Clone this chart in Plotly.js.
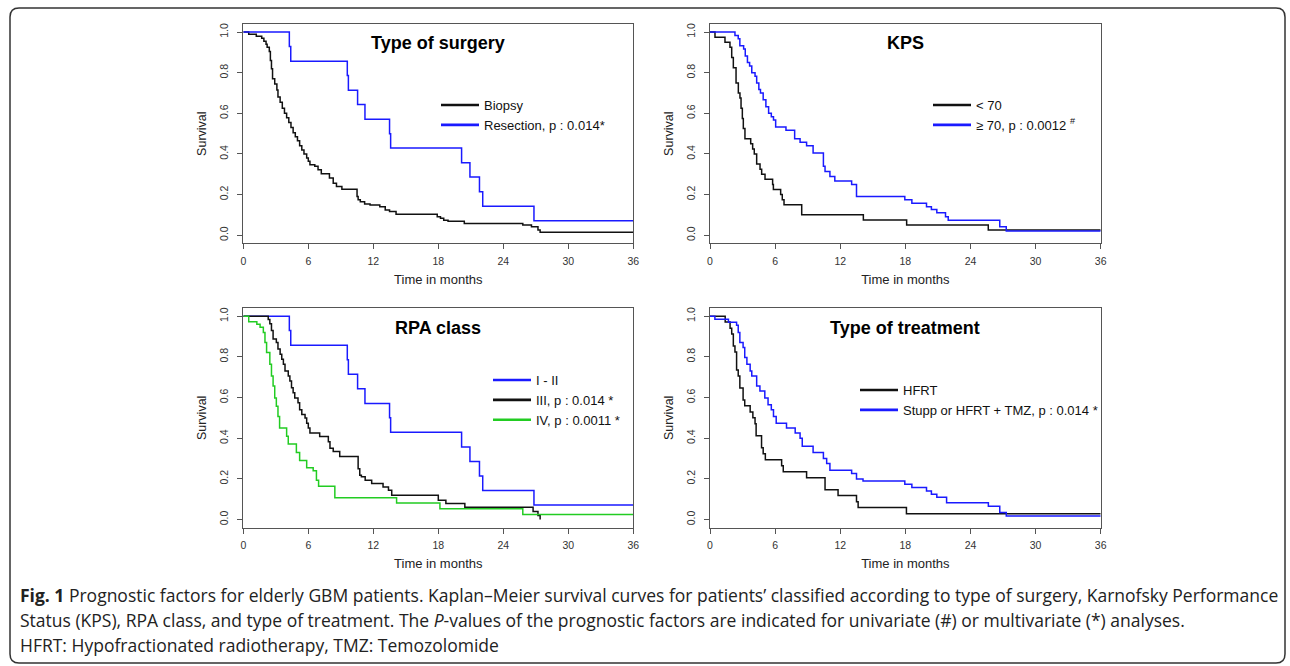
<!DOCTYPE html>
<html>
<head>
<meta charset="utf-8">
<script src="https://cdn.plot.ly/plotly-3.0.1.min.js"></script>
<style>html,body{margin:0;padding:0;background:#fff;}#chart{width:1290px;height:666px;}</style>
</head>
<body>
<div id="chart"></div>
<script>
// ---------- Data ----------
var monthTicks = [0, 6, 12, 18, 24, 30, 36];
var survTicks = [0, 0.2, 0.4, 0.6, 0.8, 1.0];
var survTickText = ['0.0', '0.2', '0.4', '0.6', '0.8', '1.0'];

var panelTitles = ['Type of surgery', 'KPS', 'RPA class', 'Type of treatment'];

// Type of surgery
var surgBiopsyT = [0,0.5,1.2,1.7,1.9,2.1,2.2,2.4,2.5,2.6,2.7,2.9,3.1,3.2,3.4,3.6,3.8,4.0,4.2,4.4,4.6,4.8,5.0,5.2,5.4,5.6,5.85,6.0,6.15,6.6,6.9,7.2,7.95,8.3,8.6,9.1,10.5,10.6,10.8,11.2,11.7,12.6,13.1,13.5,14.1,17.9,18.2,18.5,18.9,20.4,25.8,26.6,27.2,27.4,36];
var surgBiopsyS = [1,0.99,0.98,0.97,0.955,0.94,0.925,0.905,0.86,0.82,0.77,0.745,0.715,0.68,0.655,0.625,0.6,0.578,0.555,0.53,0.505,0.485,0.465,0.44,0.42,0.4,0.38,0.364,0.347,0.339,0.322,0.302,0.281,0.256,0.24,0.226,0.19,0.174,0.165,0.154,0.149,0.14,0.124,0.116,0.103,0.091,0.083,0.074,0.069,0.058,0.05,0.041,0.025,0.014,0.014];
var surgResT = [0,4.25,4.38,9.6,9.7,10.55,11.23,13.5,13.6,20.15,20.92,21.8,22.1,26.83,36];
var surgResS = [1,0.929,0.857,0.786,0.714,0.643,0.571,0.5,0.429,0.357,0.286,0.214,0.143,0.071,0.071];

// KPS
var kpsLowT = [0,0.46,1.38,1.84,2.0,2.15,2.4,2.61,2.76,2.86,2.98,3.07,3.22,3.75,3.93,4.08,4.3,4.61,4.76,5.07,5.77,5.84,6.51,6.66,6.82,8.45,14.13,18.12,25.64,36];
var kpsLowS = [1,0.975,0.95,0.925,0.875,0.825,0.75,0.7,0.675,0.625,0.575,0.525,0.475,0.45,0.425,0.4,0.35,0.325,0.3,0.275,0.25,0.225,0.2,0.175,0.15,0.1,0.075,0.05,0.025,0.025];
var kpsHighT = [0,2.3,2.6,2.75,3.1,3.25,3.45,3.65,3.85,4.15,4.3,4.5,4.65,4.9,5.15,5.4,5.65,5.85,6.05,7.0,7.8,8.3,8.9,9.5,10.45,10.6,11.05,11.5,13.05,13.5,17.95,18.6,19.95,20.4,20.9,21.7,21.95,26.7,27.3,36];
var kpsHighS = [1,0.983,0.967,0.933,0.917,0.883,0.85,0.833,0.8,0.783,0.75,0.717,0.7,0.667,0.633,0.6,0.583,0.567,0.533,0.517,0.475,0.458,0.44,0.405,0.34,0.314,0.289,0.267,0.25,0.19,0.174,0.157,0.14,0.127,0.111,0.091,0.074,0.041,0.02,0.02];

// RPA class
var rpaI_IIT = [0,4.25,4.38,9.6,9.7,10.55,11.23,13.5,13.6,20.15,20.92,21.8,22.1,26.83,36];
var rpaI_IIS = [1,0.929,0.857,0.786,0.714,0.643,0.571,0.5,0.429,0.357,0.286,0.214,0.143,0.071,0.071];
var rpaIIIT = [0,2.3,2.45,2.6,2.75,3.05,3.2,3.4,3.55,3.7,3.85,4.15,4.3,4.45,4.6,4.75,5.05,5.2,5.4,5.7,5.85,6.0,6.15,7.05,7.85,8.0,8.3,8.9,10.6,10.75,10.9,11.25,11.85,12.9,13.4,13.7,18.0,18.7,20.45,26.75,27.2,27.4];
var rpaIIIS = [1,0.983,0.962,0.929,0.887,0.871,0.838,0.813,0.788,0.764,0.73,0.706,0.681,0.648,0.623,0.598,0.574,0.54,0.516,0.499,0.474,0.45,0.425,0.408,0.383,0.35,0.334,0.31,0.25,0.218,0.21,0.193,0.177,0.16,0.144,0.119,0.095,0.079,0.06,0.04,0.02,0.0];
var rpaIVT = [0,0.5,1.25,1.55,1.85,2.0,2.15,2.45,2.6,2.75,2.9,3.05,3.2,3.35,4.0,4.15,4.9,5.2,5.85,6.45,6.75,6.95,8.45,14.15,18.15,25.8,36];
var rpaIVS = [1,0.973,0.96,0.945,0.92,0.871,0.821,0.764,0.706,0.656,0.598,0.557,0.507,0.45,0.41,0.372,0.33,0.29,0.255,0.24,0.193,0.164,0.107,0.082,0.053,0.025,0.025];

// Type of treatment
var trtHfrtT = [0,1.4,1.85,2.0,2.15,2.3,2.45,2.6,2.75,3.05,3.2,3.7,3.95,4.15,4.25,4.75,4.9,5.1,6.6,6.75,8.9,10.6,11.8,13.5,13.65,18.1,36];
var trtHfrtS = [1,0.971,0.941,0.912,0.853,0.824,0.735,0.706,0.647,0.588,0.559,0.529,0.5,0.471,0.412,0.353,0.324,0.294,0.265,0.235,0.206,0.147,0.118,0.088,0.059,0.029,0.029];
var trtTmzT = [0,0.45,1.7,2.45,2.6,2.75,3.05,3.2,3.4,3.7,3.85,4.3,4.6,5.05,5.35,5.65,5.85,6.1,7.05,7.85,8.3,8.5,9.5,10.45,10.75,11.05,13.05,13.5,14.1,17.95,18.6,19.95,20.4,20.9,21.8,25.65,26.7,27.3,36];
var trtTmzS = [1,0.985,0.97,0.955,0.92,0.871,0.846,0.797,0.764,0.73,0.706,0.656,0.632,0.598,0.565,0.54,0.507,0.474,0.45,0.425,0.4,0.36,0.33,0.3,0.276,0.243,0.226,0.2,0.19,0.174,0.158,0.14,0.125,0.11,0.083,0.065,0.035,0.017,0.017];

var legendLabels = {
  surgery: ['Biopsy', 'Resection, p : 0.014*'],
  kps: ['&lt; 70', '\u2265 70, p : 0.0012 <sup>#</sup>'],
  rpa: ['I - II', 'III, p : 0.014 *', 'IV, p : 0.0011 *'],
  treatment: ['HFRT', 'Stupp or HFRT + TMZ, p : 0.014 *']
};

var captionLines = [
  '<b>Fig. 1</b> Prognostic factors for elderly GBM patients. Kaplan\u2013Meier survival curves for patients\u2019 classified according to type of surgery, Karnofsky Performance',
  'Status (KPS), RPA class, and type of treatment. The <i>P</i>-values of the prognostic factors are indicated for univariate (#) or multivariate (*) analyses.',
  'HFRT: Hypofractionated radiotherapy, TMZ: Temozolomide'
];

// ---------- Styles ----------
var BLACK = '#111111', BLUE = '#1a1aff', GREEN = '#22cc22';
var W = 1290, H = 666;
var plotFont = 'Liberation Sans, Arial, Helvetica, sans-serif';

function curve(t, s, color, ax) {
  return {x: t, y: s, type: 'scatter', mode: 'lines', line: {shape: 'hv', color: color, width: 1.5},
          xaxis: 'x' + ax, yaxis: 'y' + ax, showlegend: false, hoverinfo: 'skip'};
}
function legItem(name, color, ax, leg) {
  return {x: [null], y: [null], type: 'scatter', mode: 'lines', name: name,
          line: {color: color, width: 2.6}, xaxis: 'x' + ax, yaxis: 'y' + ax,
          legend: leg, showlegend: true, hoverinfo: 'skip'};
}

var traces = [
  curve(surgBiopsyT, surgBiopsyS, BLACK, ''),
  curve(surgResT, surgResS, BLUE, ''),
  curve(kpsLowT, kpsLowS, BLACK, '2'),
  curve(kpsHighT, kpsHighS, BLUE, '2'),
  curve(rpaI_IIT, rpaI_IIS, BLUE, '3'),
  curve(rpaIIIT, rpaIIIS, BLACK, '3'),
  curve(rpaIVT, rpaIVS, GREEN, '3'),
  curve(trtHfrtT, trtHfrtS, BLACK, '4'),
  curve(trtTmzT, trtTmzS, BLUE, '4'),
  legItem(legendLabels.surgery[0], BLACK, '', 'legend'),
  legItem(legendLabels.surgery[1], BLUE, '', 'legend'),
  legItem(legendLabels.kps[0], BLACK, '2', 'legend2'),
  legItem(legendLabels.kps[1], BLUE, '2', 'legend2'),
  legItem(legendLabels.rpa[0], BLUE, '3', 'legend3'),
  legItem(legendLabels.rpa[1], BLACK, '3', 'legend3'),
  legItem(legendLabels.rpa[2], GREEN, '3', 'legend3'),
  legItem(legendLabels.treatment[0], BLACK, '4', 'legend4'),
  legItem(legendLabels.treatment[1], BLUE, '4', 'legend4')
];

// pixel geometry -> paper fractions
function px(x) { return x / W; }
function py(y) { return 1 - y / H; }
var colL = [px(243.3), px(633.3)], colR = [px(710), px(1100.7)];
var rowT = [py(243.3), py(24)], rowB = [py(527.7), py(308)];

function xAx(dom, anchor) {
  return {domain: dom, anchor: anchor, range: [0, 36], tickmode: 'array', tickvals: monthTicks,
          ticks: 'outside', ticklen: 5, tickwidth: 1, tickcolor: '#555', showline: true, mirror: true,
          linecolor: '#555', linewidth: 1, showgrid: false, zeroline: false, fixedrange: true,
          tickfont: {family: plotFont, size: 10.5, color: '#333'}, ticklabelstandoff: 3,
          title: {text: 'Time in months', font: {family: plotFont, size: 13, color: '#222'}, standoff: 8}};
}
function yAx(dom, anchor) {
  return {domain: dom, anchor: anchor, range: [-0.04, 1.04], tickmode: 'array', tickvals: survTicks,
          ticktext: survTickText, tickangle: -90, ticks: 'outside', ticklen: 5, tickwidth: 1, tickcolor: '#555',
          showline: true, mirror: true, linecolor: '#555', linewidth: 1, showgrid: false, zeroline: false,
          fixedrange: true, tickfont: {family: plotFont, size: 10.5, color: '#333'}, ticklabelstandoff: 5,
          title: {text: 'Survival', font: {family: plotFont, size: 12.5, color: '#222'}, standoff: 8}};
}

function legendAt(xp, yp) {
  return {x: px(xp), y: py(yp), xanchor: 'left', yanchor: 'top', bgcolor: 'rgba(0,0,0,0)',
          borderwidth: 0, itemwidth: 38, traceorder: 'normal', itemclick: false, itemdoubleclick: false,
          font: {family: plotFont, size: 13, color: '#111'}};
}

var annotations = [];
var titleCenters = [[(colL[0] + colL[1]) / 2, py(43)], [(colR[0] + colR[1]) / 2, py(43)],
                    [(colL[0] + colL[1]) / 2, py(328)], [(colR[0] + colR[1]) / 2, py(328)]];
panelTitles.forEach(function (t, i) {
  annotations.push({text: '<b>' + t + '</b>', xref: 'paper', yref: 'paper', x: titleCenters[i][0], y: titleCenters[i][1],
                    xanchor: 'center', yanchor: 'middle', showarrow: false,
                    font: {family: plotFont, size: 18, color: '#000'}});
});
var capY = [595, 620, 645];
captionLines.forEach(function (t, i) {
  annotations.push({text: t, xref: 'paper', yref: 'paper', x: px(18), y: py(capY[i]), xanchor: 'left', yanchor: 'middle',
                    showarrow: false, font: {family: 'Open Sans, sans-serif', size: 17.5, color: '#222'}});
});

// rounded frame around the figure
var fL = px(10), fR = px(1285), fT = py(8), fB = py(663), rx = 9 / W, ry = 9 / H;
var framePath = 'M' + (fL + rx) + ',' + fT + ' L' + (fR - rx) + ',' + fT + ' Q' + fR + ',' + fT + ' ' + fR + ',' + (fT - ry) +
  ' L' + fR + ',' + (fB + ry) + ' Q' + fR + ',' + fB + ' ' + (fR - rx) + ',' + fB +
  ' L' + (fL + rx) + ',' + fB + ' Q' + fL + ',' + fB + ' ' + fL + ',' + (fB + ry) +
  ' L' + fL + ',' + (fT - ry) + ' Q' + fL + ',' + fT + ' ' + (fL + rx) + ',' + fT + ' Z';

var layout = {
  width: W, height: H, margin: {l: 0, r: 0, t: 0, b: 0}, paper_bgcolor: '#fff', plot_bgcolor: '#fff',
  font: {family: plotFont},
  xaxis: xAx(colL, 'y'), yaxis: yAx(rowT, 'x'),
  xaxis2: xAx(colR, 'y2'), yaxis2: yAx(rowT, 'x2'),
  xaxis3: xAx(colL, 'y3'), yaxis3: yAx(rowB, 'x3'),
  xaxis4: xAx(colR, 'y4'), yaxis4: yAx(rowB, 'x4'),
  legend: legendAt(436, 90), legend2: legendAt(928, 90), legend3: legendAt(488, 365), legend4: legendAt(855, 375),
  annotations: annotations,
  shapes: [{type: 'path', xref: 'paper', yref: 'paper', path: framePath, line: {color: '#333', width: 1.5}, layer: 'above'}]
};

Plotly.newPlot('chart', traces, layout, {displayModeBar: false, staticPlot: true});
</script>
</body>
</html>
